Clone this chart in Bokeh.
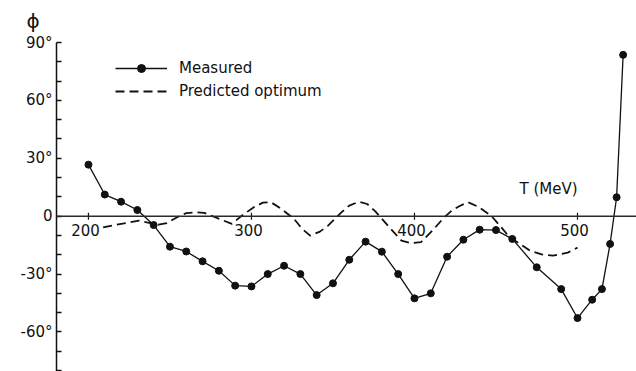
from math import pi
from bokeh.plotting import figure
from bokeh.models import (Span, Label, Legend, LegendItem, FixedTicker, Range1d)
from bokeh.core.properties import value
from bokeh.embed import file_html
from bokeh.resources import INLINE

# ---- data ----
measured_T = [200, 210, 220, 230, 240, 250, 260, 270, 280, 290, 300, 310, 320, 330,
              340, 350, 360, 370, 380, 390, 400, 410, 420, 430, 440, 450, 460, 475,
              490, 500, 509, 515, 520, 524, 528]
measured_phi = [26.7, 11.2, 7.5, 3.2, -4.6, -15.8, -18.3, -23.4, -28.3, -36.0, -36.4,
                -30.0, -25.7, -30.0, -40.9, -34.8, -22.6, -13.2, -18.4, -30.0, -42.6,
                -40.0, -21.0, -12.2, -7.0, -7.2, -11.8, -26.5, -37.8, -52.8, -43.3,
                -37.8, -14.4, 9.8, 83.6]

predicted_T = [209, 215, 221, 231, 238, 243, 248, 255, 260, 266, 271, 277, 282, 288,
               294, 301, 307, 312, 318, 326, 331, 336, 342, 347, 355, 360, 366, 371,
               376, 381, 387, 392, 398, 404, 411, 418, 423, 428, 433, 439, 447, 453,
               458, 465, 471, 478, 485, 494, 500]
predicted_phi = [-5.8, -4.8, -3.9, -2.3, -3.6, -4.4, -3.6, -0.3, 1.6, 2.0, 1.7, -0.3,
                 -2.0, -4.0, 0.2, 4.4, 7.0, 7.2, 4.0, -1.3, -6.5, -10.1, -8.0, -4.9,
                 1.8, 5.5, 7.5, 6.3, 2.5, -2.3, -8.0, -12.7, -14.0, -13.5, -7.5, -0.8,
                 3.0, 5.4, 7.2, 4.9, 0.3, -5.5, -10.6, -14.5, -17.9, -19.8, -20.5,
                 -18.9, -16.3]

x_ticks = [200, 300, 400, 500]
x_labels = ["200", "300", "400", "500"]
y_ticks = [-60, -30, 0, 30, 60, 90]
y_labels = ["-60°", "-30°", "0", "30°", "60°", "90°"]
y_minor = [-80, -70, -50, -40, -20, -10, 10, 20, 40, 50, 70, 80]

INK = "#111111"
FONT = "DejaVu Sans"

p = figure(width=636, height=371, output_backend="svg", toolbar_location=None,
           x_range=Range1d(180.4, 536.2), y_range=Range1d(-80.5, 90),
           min_border_left=56, min_border_right=0, min_border_top=42,
           min_border_bottom=0, x_axis_location=None, title="ϕ")
p.outline_line_color = None
p.xgrid.visible = False
p.ygrid.visible = False
p.background_fill_color = "white"
p.border_fill_color = "white"

# y-axis title (phi) shown as the plot title, top-left
p.title.align = "left"
p.title.vertical_align = "top"
p.title.offset = -30
p.title.standoff = 16
p.title.text_font = FONT
p.title.text_font_size = "20px"
p.title.text_font_style = "normal"
p.title.text_color = INK

# y axis
ax = p.yaxis[0]
ax.ticker = FixedTicker(ticks=y_ticks, minor_ticks=y_minor)
ax.major_label_overrides = {t: l for t, l in zip(y_ticks, y_labels)}
ax.axis_line_color = INK
ax.axis_line_width = 1.5
ax.major_tick_in = 5
ax.major_tick_out = 0
ax.minor_tick_in = 5
ax.minor_tick_out = 0
ax.major_tick_line_color = INK
ax.minor_tick_line_color = INK
ax.major_tick_line_width = 1.3
ax.minor_tick_line_width = 1.3
ax.major_label_standoff = 4
ax.major_label_text_font = FONT
ax.major_label_text_font_size = "15px"
ax.major_label_text_color = INK

# x axis drawn at phi = 0
p.add_layout(Span(location=0, dimension="width", line_color="#2a2a2a", line_width=1.5))
p.scatter(x=x_ticks, y=[0] * len(x_ticks), marker="dash", angle=pi / 2, size=7,
          line_color=INK, line_width=1.2)
p.text(x=x_ticks, y=[0] * len(x_ticks), text=x_labels, text_align="center",
       text_baseline="top", y_offset=8, x_offset=-3, text_font=value(FONT),
       text_font_size="15px", text_color=INK)

# series
dash_r = p.line(predicted_T, predicted_phi, line_color=INK, line_width=1.8,
                line_dash="9 5")
meas_line = p.line(measured_T, measured_phi, line_color=INK, line_width=1.3)
meas_pts = p.scatter(measured_T, measured_phi, size=7, fill_color=INK, line_color=INK)

legend = Legend(items=[LegendItem(label="Measured", renderers=[meas_line, meas_pts]),
                       LegendItem(label="Predicted optimum", renderers=[dash_r])],
                location=(59, 270), border_line_color=None, background_fill_alpha=0,
                glyph_width=52, glyph_height=20, label_height=20, spacing=3,
                padding=0, margin=0, label_standoff=12,
                label_text_font=FONT, label_text_font_size="15px",
                label_text_color=INK)
p.add_layout(legend)

# x-axis title (screen units relative to the frame, y up from its bottom)
p.add_layout(Label(x=492, y=183, x_units="screen", y_units="screen",
                   text="T (MeV)", text_font=FONT, text_font_size="15px",
                   text_color=INK, text_align="center", text_baseline="middle"))

open("out.html", "w").write(file_html(p, INLINE))
